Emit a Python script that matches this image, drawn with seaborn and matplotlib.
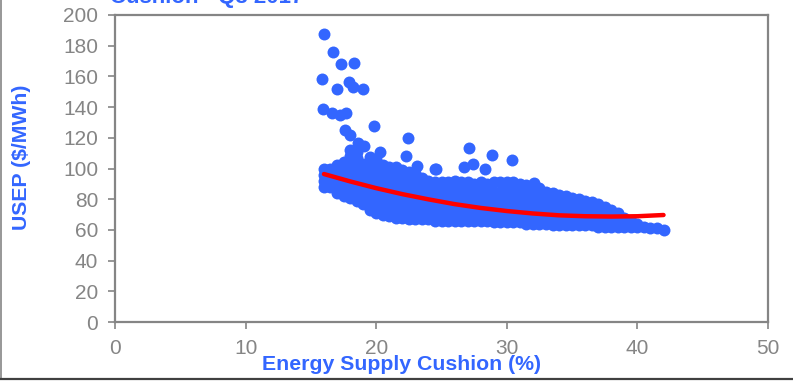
import matplotlib
matplotlib.use("Agg")
import matplotlib.pyplot as plt
import seaborn as sns
import pandas as pd
from matplotlib.lines import Line2D

# Dense cloud, read column by column (cushion %, list of USEP values)
cushion_cols = [16.0, 16.5, 17.0, 17.5, 18.0, 18.5, 19.0, 19.5, 20.0, 20.5,
                21.0, 21.5, 22.0, 22.5, 23.0, 23.5, 24.0, 24.5, 25.0, 25.5,
                26.0, 26.5, 27.0, 27.5, 28.0, 28.5, 29.0, 29.5, 30.0, 30.5,
                31.0, 31.5, 32.0, 32.5, 33.0, 33.5, 34.0, 34.5, 35.0, 35.5,
                36.0, 36.5, 37.0, 37.5, 38.0, 38.5, 39.0, 39.5, 40.0, 40.5,
                41.0, 41.5, 42.0]
usep_cols = [
    [88, 92, 96, 100],
    [88, 92, 96, 100],
    [84, 89, 94, 98, 102],
    [82, 87, 92, 97, 101, 104],
    [81, 86, 91, 96, 100, 104, 108, 112],
    [79, 84, 89, 94, 99, 103, 107, 111],
    [77, 82, 87, 92, 97, 101, 103],
    [73, 78, 83, 88, 93, 98, 104],
    [71, 76, 81, 86, 91, 96, 101, 106],
    [70, 75, 80, 85, 90, 95, 99, 102],
    [69, 74, 79, 84, 89, 94, 98, 101],
    [68, 73, 78, 83, 88, 93, 97, 101],
    [68, 73, 78, 83, 88, 93, 99],
    [67, 72, 77, 82, 87, 92, 98],
    [67, 72, 77, 82, 87, 92, 97],
    [67, 72, 77, 82, 87, 91, 94],
    [67, 72, 77, 82, 87, 92],
    [66, 71, 76, 81, 86, 91],
    [66, 71, 76, 81, 86, 91],
    [66, 71, 76, 81, 86, 91],
    [66, 71, 76, 81, 86, 92],
    [66, 71, 76, 81, 86, 91],
    [66, 71, 76, 81, 86, 91],
    [66, 71, 76, 81, 86, 90],
    [66, 71, 76, 81, 86, 91],
    [66, 70, 75, 80, 85, 90],
    [65, 70, 75, 80, 85, 91],
    [65, 70, 75, 80, 85, 91],
    [65, 70, 75, 80, 86, 91],
    [65, 70, 75, 80, 86, 91],
    [65, 70, 75, 80, 85, 90],
    [64, 69, 74, 79, 84, 89],
    [64, 69, 74, 79, 84, 89],
    [64, 69, 74, 79, 83, 87],
    [64, 69, 74, 79, 85],
    [63, 68, 73, 78, 84],
    [63, 68, 73, 78, 83],
    [63, 68, 73, 78, 82],
    [63, 68, 73, 77, 81],
    [63, 68, 72, 76, 80],
    [63, 67, 71, 75, 79],
    [63, 67, 71, 75, 78],
    [62, 66, 70, 74, 77],
    [62, 66, 70, 75],
    [62, 66, 70, 73],
    [62, 66, 71],
    [62, 65, 68],
    [62, 66],
    [62, 64],
    [62],
    [61],
    [61],
    [60],
]

# Scattered high-price points
outlier_x = [16.0, 16.7, 17.3, 18.3, 15.85, 17.0, 17.9, 18.2, 19.0, 15.9,
             16.6, 17.2, 17.7, 17.6, 18.0, 19.8, 18.6, 19.1, 20.3, 22.4,
             22.3, 19.5, 23.1, 24.6, 27.1, 26.7, 27.4, 28.3, 28.9, 30.4,
             32.1, 24.5]
outlier_y = [187.6, 176, 168, 169, 158.5, 151.6, 156.6, 153, 151.8, 139,
             136, 135, 136.4, 125, 122, 127.7, 116.4, 114.7, 111, 119.6,
             108.4, 107.7, 101.6, 100, 113.5, 100.8, 102.9, 99.5, 108.8, 105.5,
             90.8, 100]

# Polynomial trend line
trend_x = [16, 18, 20, 22, 24, 26, 28, 30, 32, 34, 36, 38, 40, 42]
trend_y = [96.4, 91.6, 87.2, 83.3, 79.9, 76.8, 74.3, 72.3, 70.7, 69.5,
           68.9, 68.7, 68.9, 69.7]

BLUE = "#3366FF"
GREY = "#858585"

xs, ys = [], []
for cx, col in zip(cushion_cols, usep_cols):
    for v in col:
        xs.append(cx)
        ys.append(v)
xs += outlier_x
ys += outlier_y
df = pd.DataFrame({"cushion": xs, "usep": ys})
trend = pd.DataFrame({"cushion": trend_x, "usep": trend_y})

sns.set_style("white")
plt.rcParams["font.family"] = ["Liberation Sans", "DejaVu Sans"]

fig = plt.figure(figsize=(7.93, 3.81), dpi=100)
ax = fig.add_axes([115 / 793, 59 / 381, 653 / 793, 307 / 381])

sns.scatterplot(data=df, x="cushion", y="usep", ax=ax, color=BLUE,
                s=74, linewidth=0, alpha=1, zorder=2, legend=False)
sns.lineplot(data=trend, x="cushion", y="usep", ax=ax, color="#FF0000",
             linewidth=3.2, zorder=3, legend=False)

ax.set_xlim(0, 50)
ax.set_ylim(0, 200)
ax.set_xticks(range(0, 51, 10))
ax.set_yticks(range(0, 201, 20))
ax.set_xlabel("")
ax.set_ylabel("")
for sp in ax.spines.values():
    sp.set_color(GREY)
    sp.set_linewidth(1.6)
ax.tick_params(axis="both", direction="out", length=5, width=1.2,
               color=GREY, labelcolor=GREY, labelsize=15, pad=7,
               left=True, bottom=True)

fig.text(401 / 793, 1 - 364 / 381, "Energy Supply Cushion (%)", color=BLUE,
         fontsize=15.3, fontweight="bold", ha="center", va="center")
fig.text(22 / 793, 1 - 157 / 381, "USEP ($/MWh)", color=BLUE,
         fontsize=15.3, fontweight="bold", ha="center", va="center",
         rotation=90)
# title cut off at the top edge of the image, as in the source
fig.text(110 / 793, 1 - 3 / 381, "Cushion - Q3 2017", color=BLUE,
         fontsize=16, fontweight="bold", ha="left", va="baseline")

# outer frame lines (left and bottom)
fig.add_artist(Line2D([0.5 / 793, 0.5 / 793], [2.5 / 381, 1], color=GREY,
                      linewidth=1.2, transform=fig.transFigure))
fig.add_artist(Line2D([0, 1], [2.5 / 381, 2.5 / 381], color="#404040",
                      linewidth=1.6, transform=fig.transFigure))

fig.savefig("out.png", dpi=100)
